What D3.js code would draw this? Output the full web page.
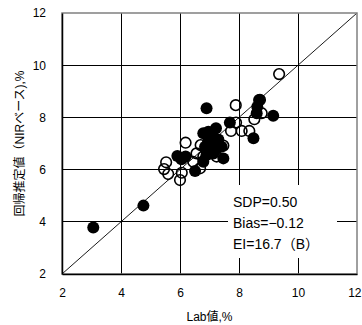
<!DOCTYPE html>
<html>
<head>
<meta charset="utf-8">
<script src="https://cdn.jsdelivr.net/npm/d3@7"></script>
<style>
  body { margin: 0; background: #fff; }
  svg { display: block; }
</style>
</head>
<body>
<script>
// data
const ticks = [2, 4, 6, 8, 10, 12];
const openX = [9.36, 7.89, 6.19, 7.9, 7.73, 8.09, 8.35, 8.71, 8.77, 8.52, 7.47, 5.53, 5.46, 5.6, 6.0, 6.06, 6.7, 6.68, 6.79, 7.02, 7.24, 6.56, 6.45];
const openY = [9.66, 8.47, 7.03, 7.8, 7.48, 7.48, 7.48, 8.67, 8.16, 7.93, 6.92, 6.28, 6.02, 5.83, 5.6, 5.88, 6.94, 6.05, 6.5, 6.65, 6.5, 6.62, 6.3];
const fillX = [3.06, 4.76, 6.9, 9.16, 8.49, 8.68, 8.62, 8.6, 7.69, 6.79, 7.22, 7.02, 6.85, 7.11, 7.41, 7.47, 5.91, 6.19, 6.51, 6.9, 6.79, 7.13, 6.96, 7.1, 7.3, 6.95, 7.2, 6.05];
const fillY = [3.78, 4.62, 8.35, 8.06, 7.2, 8.67, 8.41, 8.16, 7.8, 7.39, 7.58, 7.13, 6.88, 6.94, 6.88, 6.43, 6.52, 6.5, 5.95, 6.56, 6.3, 6.62, 7.45, 7.3, 7.15, 7.05, 6.75, 6.4];
const stats = ["SDP=0.50", "Bias=\u22120.12", "EI=16.7\uFF08B\uFF09"];

const width = 362, height = 325;
const margin = { top: 13, right: 5, bottom: 51, left: 62 };
const font = "Arial, 'Liberation Sans', 'Noto Sans CJK JP', sans-serif";

const x = d3.scaleLinear().domain([2, 12]).range([margin.left, width - margin.right]);
const y = d3.scaleLinear().domain([2, 12]).range([height - margin.bottom, margin.top]);

const svg = d3.select("body").append("svg")
  .attr("width", width)
  .attr("height", height)
  .style("font-family", font);

// gridlines
svg.append("g")
  .selectAll("line")
  .data(ticks.slice(1, -1))
  .join("line")
  .attr("x1", d => x(d)).attr("x2", d => x(d))
  .attr("y1", y(2)).attr("y2", y(12))
  .attr("stroke", "#000").attr("stroke-width", 1).attr("shape-rendering", "crispEdges");
svg.append("g")
  .selectAll("line")
  .data(ticks.slice(1, -1))
  .join("line")
  .attr("x1", x(2)).attr("x2", x(12))
  .attr("y1", d => y(d)).attr("y2", d => y(d))
  .attr("stroke", "#000").attr("stroke-width", 1).attr("shape-rendering", "crispEdges");

// 1:1 line
svg.append("line")
  .attr("x1", x(2)).attr("y1", y(2))
  .attr("x2", x(12)).attr("y2", y(12))
  .attr("stroke", "#000").attr("stroke-width", 0.9);

// white box behind the stats text
svg.append("rect")
  .attr("x", 228).attr("y", 185)
  .attr("width", 109).attr("height", 73)
  .attr("fill", "#fff");

// plot frame
svg.append("rect")
  .attr("x", x(2)).attr("y", y(12))
  .attr("width", x(12) - x(2)).attr("height", y(2) - y(12))
  .attr("fill", "none").attr("stroke", "#808080").attr("stroke-width", 1.5);

// points
svg.append("g")
  .selectAll("circle")
  .data(d3.range(openX.length))
  .join("circle")
  .attr("cx", i => x(openX[i]))
  .attr("cy", i => y(openY[i]))
  .attr("r", 5.3)
  .attr("fill", "none")
  .attr("stroke", "#000")
  .attr("stroke-width", 1.6);

svg.append("g")
  .selectAll("circle")
  .data(d3.range(fillX.length))
  .join("circle")
  .attr("cx", i => x(fillX[i]))
  .attr("cy", i => y(fillY[i]))
  .attr("r", 6)
  .attr("fill", "#000");

// axes
const xAxis = d3.axisBottom(x).tickValues(ticks).tickSize(0).tickPadding(14);
const yAxis = d3.axisLeft(y).tickValues(ticks).tickSize(0).tickPadding(16);

svg.append("g")
  .attr("transform", `translate(0,${y(2)})`)
  .call(xAxis)
  .call(g => g.select(".domain").attr("stroke", "#000").attr("stroke-width", 1.5))
  .call(g => g.selectAll("text").attr("font-size", 12).attr("font-family", font).attr("fill", "#000"))
  .call(g => g.selectAll(".tick text").filter(d => d === 12).attr("text-anchor", "end").attr("dx", 4));

svg.append("g")
  .attr("transform", `translate(${x(2)},0)`)
  .call(yAxis)
  .call(g => g.select(".domain").attr("stroke", "#000").attr("stroke-width", 1.5))
  .call(g => g.selectAll("text").attr("font-size", 12).attr("font-family", font).attr("fill", "#000"));

// axis titles
svg.append("text")
  .attr("x", (x(2) + x(12)) / 2)
  .attr("y", 321)
  .attr("text-anchor", "middle")
  .attr("font-size", 12)
  .attr("fill", "#000")
  .text("Lab値,%");

svg.append("text")
  .attr("transform", `translate(24,${(y(2) + y(12)) / 2}) rotate(-90)`)
  .attr("text-anchor", "middle")
  .attr("font-size", 12)
  .attr("fill", "#000")
  .text("回帰推定値（NIRベース),%");

// stats
svg.append("g")
  .selectAll("text")
  .data(stats)
  .join("text")
  .attr("x", 233)
  .attr("y", (d, i) => 207 + i * 21)
  .attr("font-size", 14)
  .attr("fill", "#000")
  .text(d => d);
</script>
</body>
</html>
